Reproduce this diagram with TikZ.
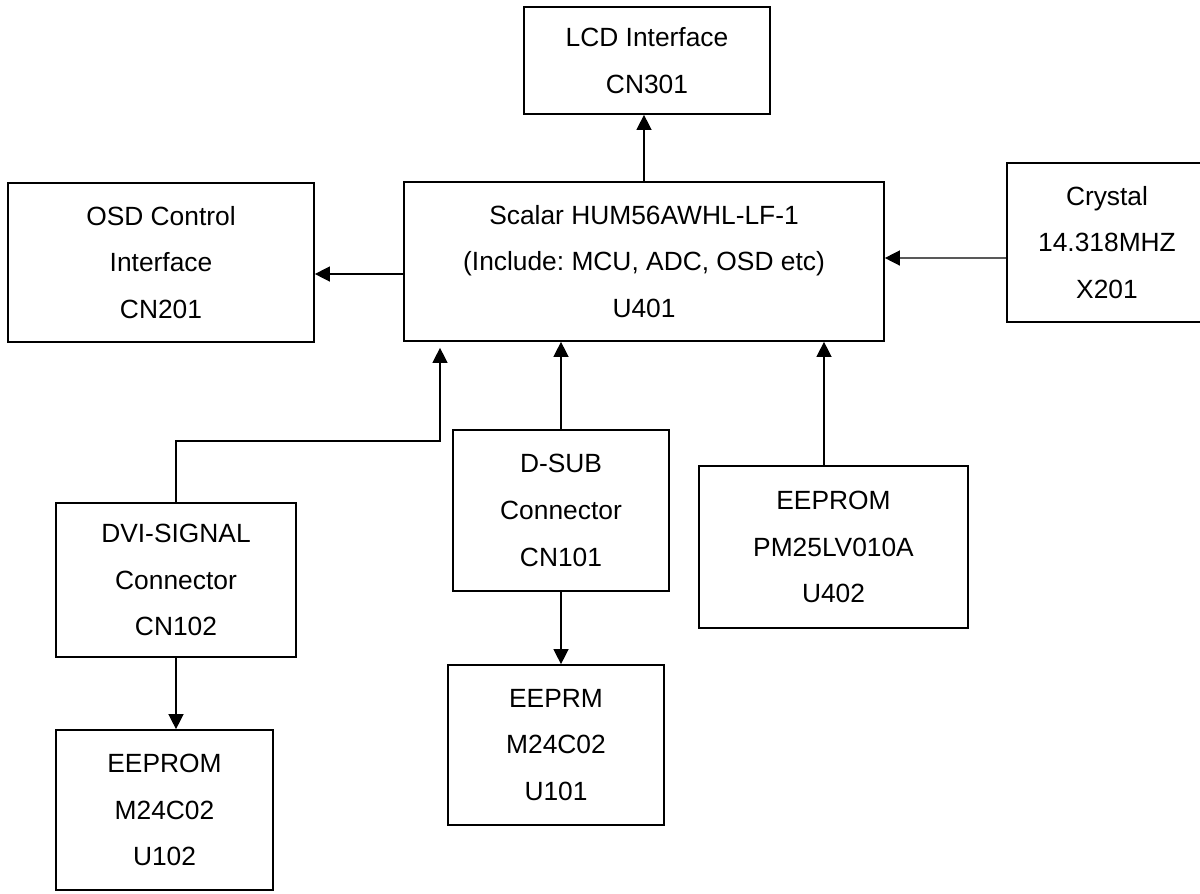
\documentclass[tikz,border=0pt]{standalone}
\usepackage{fontspec}
\setmainfont{Liberation Sans}
\usepackage{tikz}
\usetikzlibrary{arrows.meta, positioning, calc}
\frenchspacing

\tikzset{
    blk/.style={draw, rectangle, line width=1pt, inner sep=0pt, align=center,
        font=\fontsize{15pt}{26.7pt}\selectfont},
    arr/.style={-{Triangle[length=0.3cm, width=0.3cm]}, line width=0.8pt}
}

\begin{document}
\begin{tikzpicture}[x=0.02cm, y=-0.02cm]
    \useasboundingbox (0,0) rectangle (1200,893);

    % Scaler chip in the middle
    \node[blk, minimum width=9.6cm, minimum height=3.18cm] (scalar) at (644,261.5) {Scalar HUM56AWHL-LF-1\\(Include: MCU, ADC, OSD etc)\\U401};

    % Outputs
    \node[blk, minimum width=4.92cm, minimum height=2.14cm] (lcd) at (647,60.5) {LCD Interface\\CN301};
    \node[blk, minimum width=6.12cm, minimum height=3.18cm] (osd) at (161,262.5) {OSD Control\\Interface\\CN201};

    % Clock
    \node[blk, minimum width=4.0cm, minimum height=3.18cm] (crystal) at (1107,242.5) {Crystal\\14.318MHZ\\X201};

    % Inputs
    \node[blk, minimum width=4.8cm, minimum height=3.08cm] (dvi) at (176,580) {DVI-SIGNAL\\Connector\\CN102};
    \node[blk, minimum width=4.32cm, minimum height=3.22cm] (dsub) at (561,510.5) {D-SUB\\Connector\\CN101};
    \node[blk, minimum width=5.38cm, minimum height=3.24cm] (u402) at (833.5,547) {EEPROM\\PM25LV010A\\U402};

    % EEPROMs below the connectors
    \node[blk, minimum width=4.32cm, minimum height=3.2cm] (u101) at (556,745) {EEPRM\\M24C02\\U101};
    \node[blk, minimum width=4.34cm, minimum height=3.2cm] (u102) at (164.5,810) {EEPROM\\M24C02\\U102};

    % Arrows
    \draw[arr] (scalar.north) -- (scalar.north |- lcd.south);
    \draw[arr] ([yshift=-0.25cm]scalar.west) -- ([yshift=-0.23cm]osd.east);
    \draw[arr] ([yshift=-0.31cm]crystal.west) -- ([yshift=0.07cm]scalar.east);

    \coordinate (dvijoint) at (440,441);
    \draw[arr, shorten >=0.12cm] (dvi.north) |- (dvijoint) -- (dvijoint |- scalar.south);
    \draw[arr] (dsub.north) -- (dsub.north |- scalar.south);
    \draw[arr] ([xshift=-0.19cm]u402.north) -- ([xshift=-0.19cm]u402.north |- scalar.south);

    \draw[arr] (dvi.south) -- (dvi.south |- u102.north);
    \draw[arr] (dsub.south) -- (dsub.south |- u101.north);
\end{tikzpicture}
\end{document}
